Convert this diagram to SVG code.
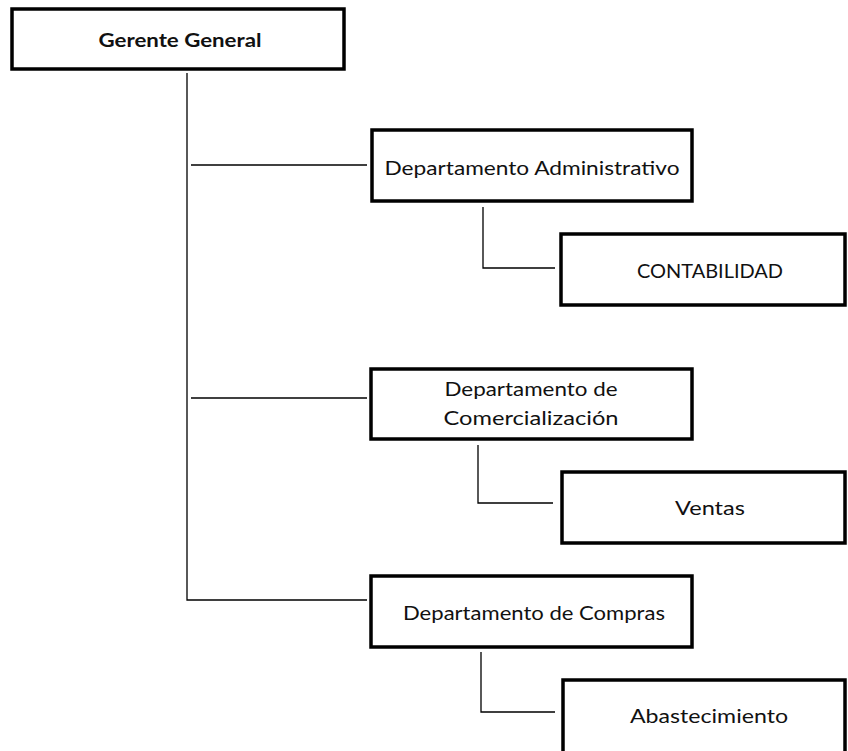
<svg xmlns="http://www.w3.org/2000/svg" width="848" height="751" viewBox="0 0 848 751">
<style>
.box{fill:#fff;stroke:#000;stroke-width:3.5}
.ln{fill:none;stroke:#000;stroke-width:1.3}
text{font-family:Lato,"Open Sans",sans-serif;font-size:18.5px;fill:#111;text-anchor:middle}
.b{font-weight:bold}
</style>
<rect width="848" height="751" fill="#fff"/>
<g id="connectors">
<path class="ln" d="M187 73V600H367"/>
<path class="ln" d="M191 165H367"/>
<path class="ln" d="M191 398H367"/>
<path class="ln" d="M483 207V268H555"/>
<path class="ln" d="M478 445V503H553"/>
<path class="ln" d="M481 652V712H555"/>
</g>
<g id="gerente">
<rect class="box" x="12" y="9" width="332" height="60"/>
<text class="b" x="180" y="47" textLength="163" lengthAdjust="spacingAndGlyphs">Gerente General</text>
</g>
<g id="administrativo">
<rect class="box" x="372" y="130" width="320" height="71"/>
<text x="532" y="175" textLength="295" lengthAdjust="spacingAndGlyphs">Departamento Administrativo</text>
</g>
<g id="contabilidad">
<rect class="box" x="561" y="234" width="284" height="71"/>
<text x="710" y="278" textLength="146" lengthAdjust="spacingAndGlyphs">CONTABILIDAD</text>
</g>
<g id="comercializacion">
<rect class="box" x="371" y="369" width="321" height="70"/>
<text x="531" y="396" textLength="173" lengthAdjust="spacingAndGlyphs">Departamento de</text>
<text x="531" y="425" textLength="175" lengthAdjust="spacingAndGlyphs">Comercialización</text>
</g>
<g id="ventas">
<rect class="box" x="562" y="472" width="283" height="71"/>
<text x="710" y="515" textLength="70" lengthAdjust="spacingAndGlyphs">Ventas</text>
</g>
<g id="compras">
<rect class="box" x="371" y="576" width="321" height="71"/>
<text x="534" y="620" textLength="262" lengthAdjust="spacingAndGlyphs">Departamento de Compras</text>
</g>
<g id="abastecimiento">
<rect class="box" x="563" y="680" width="282" height="74"/>
<text x="709" y="723" textLength="158" lengthAdjust="spacingAndGlyphs">Abastecimiento</text>
</g>
</svg>
